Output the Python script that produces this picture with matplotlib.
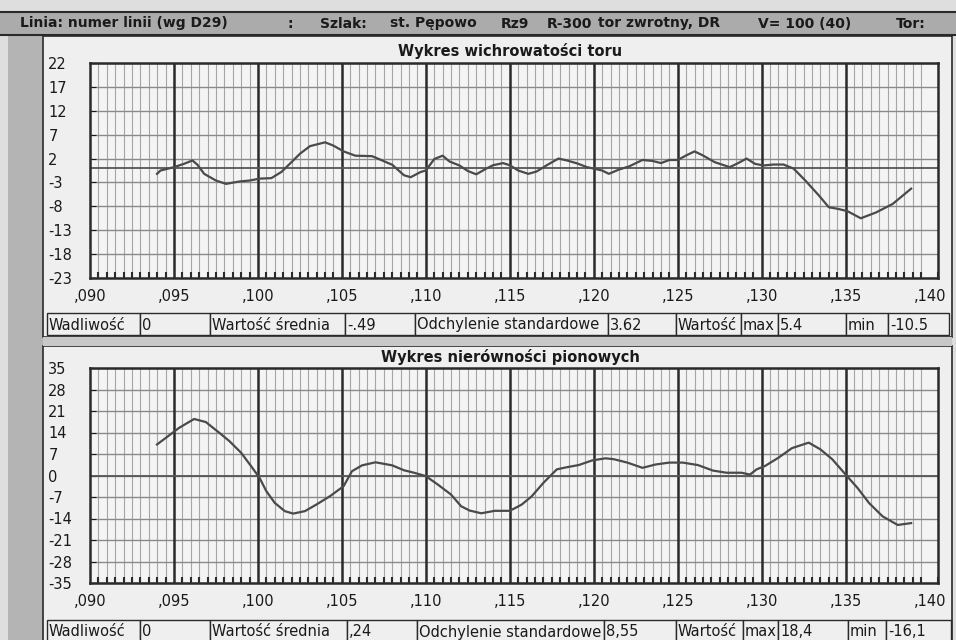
import numpy as np
import matplotlib.pyplot as plt
from matplotlib.patches import Rectangle
from matplotlib.ticker import MultipleLocator

W, H = 956, 640

header_parts = ["Linia: numer linii (wg D29)", ":", "Szlak:", "st. Pępowo", "Rz9", "R-300",
                "tor zwrotny, DR", "V= 100 (40)", "Tor:"]
header_x = [20, 288, 320, 390, 501, 547, 598, 758, 896]

# Wykres wichrowatości toru
twist_km = [0.09399, 0.0942, 0.0950, 0.0956, 0.0961, 0.0964, 0.0968, 0.0975, 0.0981, 0.0989,
            0.0995, 0.1001, 0.1008, 0.1014, 0.1020, 0.1025, 0.1031, 0.1040, 0.1045, 0.1051,
            0.1058, 0.1068, 0.1074, 0.1080, 0.1087, 0.1091, 0.1097, 0.1100, 0.1105, 0.1110,
            0.1114, 0.1120, 0.1125, 0.1130, 0.1136, 0.1140, 0.1146, 0.1150, 0.1155, 0.1161,
            0.1166, 0.1172, 0.1179, 0.1184, 0.1190, 0.1196, 0.1200, 0.1205, 0.1209, 0.1215,
            0.1221, 0.1229, 0.1235, 0.1240, 0.1245, 0.1250, 0.1255, 0.1260, 0.1265, 0.1272,
            0.1281, 0.1286, 0.1291, 0.1296, 0.1301, 0.1307, 0.1313, 0.1319, 0.1326, 0.1334,
            0.1340, 0.1345, 0.1351, 0.1359, 0.1368, 0.1378, 0.1389]
twist_val = [-1.2, -0.5, 0.2, 0.9, 1.6, 0.7, -1.2, -2.6, -3.3, -2.8,
             -2.6, -2.2, -2.1, -0.8, 1.25, 3.0, 4.6, 5.4, 4.7, 3.5,
             2.6, 2.5, 1.6, 0.7, -1.5, -1.9, -0.8, -0.5, 1.9, 2.6,
             1.4, 0.55, -0.6, -1.3, -0.1, 0.6, 1.05, 0.6, -0.5, -1.2,
             -0.7, 0.6, 2.0, 1.6, 1.0, 0.2, -0.1, -0.5, -1.2, -0.3,
             0.35, 1.7, 1.5, 1.05, 1.7, 1.7, 2.65, 3.5, 2.65, 1.25,
             0.2, 1.05, 2.0, 0.9, 0.55, 0.75, 0.75, -0.1, -2.6, -5.7,
             -8.2, -8.5, -9.0, -10.5, -9.3, -7.5, -4.3]

# Wykres nierówności pionowych
vert_km = [0.09399, 0.0946, 0.0953, 0.0962, 0.0969, 0.0977, 0.0983, 0.0990, 0.0996, 0.1001,
           0.1005, 0.1010, 0.1016, 0.1021, 0.1028, 0.1035, 0.1043, 0.1051, 0.1056, 0.1062,
           0.1070, 0.1080, 0.1087, 0.1093, 0.1100, 0.1107, 0.1115, 0.1121, 0.1126, 0.1133,
           0.1141, 0.1150, 0.1157, 0.1163, 0.1170, 0.1178, 0.1184, 0.1191, 0.1199, 0.1207,
           0.1212, 0.1220, 0.1229, 0.1237, 0.1245, 0.1253, 0.1262, 0.1271, 0.1279, 0.1288,
           0.1293, 0.1297, 0.1302, 0.1310, 0.1318, 0.1328, 0.1335, 0.1342, 0.1350, 0.1357,
           0.1364, 0.1372, 0.1381, 0.1389]
vert_val = [10.1, 12.6, 15.5, 18.4, 17.4, 13.9, 11.2, 7.4, 3.0, -0.8,
            -5.1, -8.9, -11.6, -12.4, -11.6, -9.4, -6.7, -3.5, 1.4, 3.3,
            4.3, 3.3, 1.7, 0.9, -0.2, -2.9, -6.2, -10.0, -11.4, -12.3,
            -11.5, -11.5, -9.5, -6.8, -2.4, 2.0, 2.7, 3.4, 4.9, 5.6,
            5.3, 4.2, 2.5, 3.6, 4.2, 4.2, 3.4, 1.6, 0.9, 0.9,
            0.3, 2.0, 3.1, 5.8, 8.9, 10.7, 8.5, 5.3, 0.3, -4.0,
            -9.0, -13.3, -16.1, -15.5]

x_ticks = [0.090, 0.095, 0.100, 0.105, 0.110, 0.115, 0.120, 0.125, 0.130, 0.135, 0.140]
twist_yticks = [22, 17, 12, 7, 2, -3, -8, -13, -18, -23]
vert_yticks = [35, 28, 21, 14, 7, 0, -7, -14, -21, -28, -35]

stats1 = ["Wadliwość", "0", "Wartość średnia", "-.49", "Odchylenie standardowe", "3.62",
          "Wartość", "max", "5.4", "min", "-10.5"]
stats2 = ["Wadliwość", "0", "Wartość średnia", ",24", "Odchylenie standardowe", "8,55",
          "Wartość", "max", "18,4", "min", "-16,1"]
cells1 = [47, 140, 210, 345, 415, 608, 676, 741, 778, 846, 888, 949]
cells2 = [47, 140, 210, 347, 417, 604, 676, 743, 778, 848, 886, 951]

dark = '#2a2a2a'
panel_bg = '#efefef'

fig = plt.figure(figsize=(W / 100, H / 100), dpi=100)
fig.patch.set_facecolor('#dedede')

bg = fig.add_axes([0, 0, 1, 1])
bg.set_xlim(0, W)
bg.set_ylim(H, 0)
bg.axis('off')

# header bar
bg.add_patch(Rectangle((0, 12), W, 23, facecolor='#ababab', edgecolor='none'))
bg.plot([0, W], [12, 12], color=dark, lw=1.5)
bg.plot([0, W], [35, 35], color=dark, lw=1.5)
for t, x in zip(header_parts, header_x):
    bg.text(x, 23.5, t, fontsize=10, fontweight='bold', color='#1a1a1a', ha='left', va='center')

# left strip
bg.add_patch(Rectangle((8, 35), 35, H - 35, facecolor='#b4b4b4', edgecolor='none'))

# panels
bg.add_patch(Rectangle((43, 36), 909, 301, facecolor=panel_bg, edgecolor=dark, lw=1.2))
bg.add_patch(Rectangle((43, 346), 909, 300, facecolor=panel_bg, edgecolor=dark, lw=1.2))
bg.add_patch(Rectangle((43, 337), 909, 9, facecolor='#c8c8c8', edgecolor='none'))

bg.text(510, 51, "Wykres wichrowatości toru", fontsize=10.5, fontweight='bold',
        ha='center', va='center', color='#1a1a1a')
bg.text(510, 357, "Wykres nierówności pionowych", fontsize=10.5, fontweight='bold',
        ha='center', va='center', color='#1a1a1a')


def stats_row(texts, edges, y0, y1):
    for i, t in enumerate(texts):
        x0, x1 = edges[i], edges[i + 1]
        bg.add_patch(Rectangle((x0, y0), x1 - x0, y1 - y0, facecolor=panel_bg,
                               edgecolor=dark, lw=1))
        bg.text(x0 + 2, (y0 + y1) / 2 + 1, t, fontsize=10.5, ha='left', va='center',
                color='#1a1a1a')


stats_row(stats1, cells1, 313, 335)
stats_row(stats2, cells2, 620, 642)


def chart(top, bottom, km, val, yticks):
    ax = fig.add_axes([90 / W, 1 - bottom / H, (938 - 90) / W, (bottom - top) / H])
    ax.set_facecolor('#f4f4f4')
    ax.set_xlim(0.090, 0.1405)
    ax.set_ylim(min(yticks), max(yticks))
    ax.xaxis.set_minor_locator(MultipleLocator(0.0005))
    ax.grid(which='minor', axis='x', color='#a6a6a6', lw=0.8)
    ax.set_yticks(yticks)
    ax.set_yticklabels([str(v) for v in yticks], ha='left', fontsize=10.5)
    ax.grid(which='major', axis='y', color='#8a8a8a', lw=1)
    ax.set_xticks(x_ticks)
    ax.set_xticklabels([("%.3f" % v)[1:].replace('.', ',') for v in x_ticks], fontsize=10.5)
    for v in x_ticks[1:-1]:
        ax.axvline(v, color=dark, lw=1.8, zorder=2)
    ax.axhline(0, color='#555555', lw=1.3, zorder=2)
    ax.plot(km, val, color='#4a4a4a', lw=1.6, zorder=3)
    ax.tick_params(axis='y', direction='in', length=4, pad=30, colors='#1a1a1a')
    ax.tick_params(axis='x', which='major', direction='in', length=0, pad=8, colors='#1a1a1a')
    ax.tick_params(axis='x', which='minor', direction='in', length=4, width=1.5, color=dark)
    for s in ax.spines.values():
        s.set_color(dark)
        s.set_linewidth(1.8)
    return ax


chart(63, 278, twist_km, twist_val, twist_yticks)
chart(368, 583, vert_km, vert_val, vert_yticks)

fig.savefig('out.png', dpi=100, facecolor=fig.get_facecolor())
